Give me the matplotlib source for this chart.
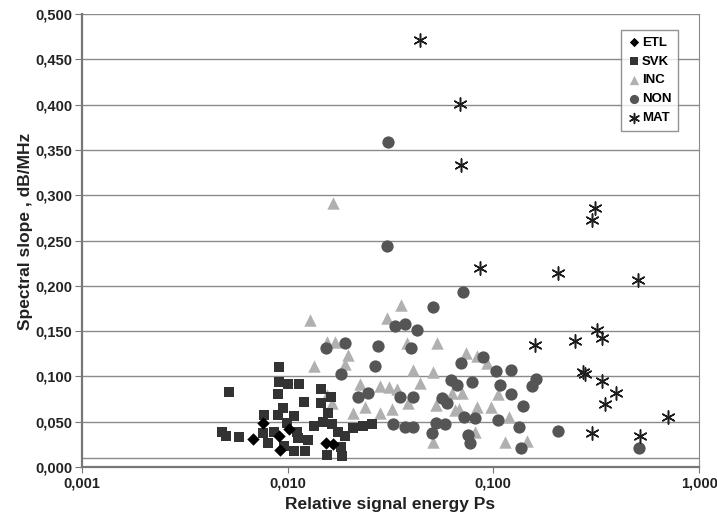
import matplotlib.pyplot as plt
from matplotlib.ticker import FixedLocator, FuncFormatter, NullLocator

# groups, values
etl_x = [0.0076, 0.0102, 0.0068, 0.0091, 0.0092, 0.0153, 0.0167]
etl_y = [0.049, 0.042, 0.031, 0.034, 0.019, 0.027, 0.025]

svk_x = [0.0091, 0.0091, 0.0101, 0.0114, 0.0052, 0.0090, 0.0145, 0.0120, 0.0146, 0.0163,
         0.0158, 0.0095, 0.0077, 0.0090, 0.0108, 0.0099, 0.0134, 0.0149, 0.0165, 0.0175,
         0.0191, 0.0209, 0.0234, 0.0256, 0.0048, 0.0050, 0.0058, 0.0076, 0.0080, 0.0086,
         0.0096, 0.0107, 0.0111, 0.0112, 0.0122, 0.0126, 0.0156, 0.0181, 0.0185]
svk_y = [0.110, 0.094, 0.092, 0.092, 0.083, 0.081, 0.086, 0.072, 0.071, 0.077,
         0.060, 0.065, 0.057, 0.057, 0.056, 0.049, 0.045, 0.050, 0.047, 0.039,
         0.034, 0.043, 0.045, 0.047, 0.039, 0.034, 0.033, 0.038, 0.026, 0.039,
         0.023, 0.018, 0.039, 0.032, 0.018, 0.030, 0.013, 0.022, 0.012]

inc_x = [0.0167, 0.0129, 0.0303, 0.0358, 0.0156, 0.0171, 0.0196, 0.0135, 0.0190, 0.0382,
         0.0530, 0.0409, 0.0512, 0.0740, 0.0836, 0.0935, 0.0442, 0.0224, 0.0280, 0.0313,
         0.0342, 0.0155, 0.0165, 0.0633, 0.0707, 0.1057, 0.0386, 0.0524, 0.0207, 0.0239,
         0.0323, 0.0283, 0.0654, 0.0836, 0.0978, 0.1196, 0.0818, 0.0512, 0.1144, 0.1460,
         0.0685]
inc_y = [0.291, 0.162, 0.164, 0.179, 0.138, 0.138, 0.124, 0.111, 0.114, 0.137,
         0.137, 0.107, 0.105, 0.126, 0.123, 0.115, 0.093, 0.092, 0.089, 0.088,
         0.086, 0.079, 0.071, 0.082, 0.082, 0.081, 0.071, 0.068, 0.060, 0.066,
         0.064, 0.060, 0.063, 0.066, 0.066, 0.055, 0.039, 0.028, 0.028, 0.029,
         0.064]

non_x = [0.0308, 0.0303, 0.0714, 0.0512, 0.0334, 0.0373, 0.0428, 0.0153, 0.0191, 0.0274,
         0.0396, 0.0265, 0.0181, 0.0700, 0.0895, 0.1034, 0.1223, 0.0625, 0.0669, 0.0791,
         0.1080, 0.1618, 0.1546, 0.0221, 0.0247, 0.0354, 0.0409, 0.0565, 0.0598, 0.1223,
         0.1400, 0.0723, 0.0818, 0.1057, 0.0327, 0.0373, 0.0409, 0.0524, 0.0585, 0.1337,
         0.0506, 0.2068, 0.0757, 0.0774, 0.1367, 0.5120]
non_y = [0.359, 0.244, 0.193, 0.177, 0.156, 0.158, 0.151, 0.131, 0.137, 0.134,
         0.131, 0.111, 0.103, 0.115, 0.121, 0.106, 0.107, 0.096, 0.091, 0.094,
         0.091, 0.097, 0.089, 0.077, 0.082, 0.077, 0.077, 0.076, 0.071, 0.081,
         0.067, 0.055, 0.054, 0.052, 0.047, 0.044, 0.044, 0.049, 0.047, 0.044,
         0.038, 0.040, 0.035, 0.026, 0.021, 0.021]

mat_x = [0.044, 0.069, 0.0693, 0.0866, 0.207, 0.506, 0.313, 0.303, 0.320, 0.338,
         0.250, 0.160, 0.274, 0.280, 0.338, 0.396, 0.350, 0.707, 0.303, 0.517]
mat_y = [0.471, 0.401, 0.333, 0.220, 0.214, 0.206, 0.286, 0.273, 0.151, 0.142,
         0.139, 0.135, 0.105, 0.103, 0.095, 0.082, 0.070, 0.055, 0.038, 0.034]

plt.rcParams['font.family'] = ['Liberation Sans', 'DejaVu Sans']

fig = plt.figure(figsize=(7.17, 5.21), dpi=100)
ax = fig.add_axes([0.114, 0.1036, 0.861, 0.8694])

ax.set_xscale('log')
ax.set_xlim(0.001, 1.0)
ax.set_ylim(0.0, 0.5)

# horizontal grid lines + the low threshold line
for v in [0.05 * i for i in range(1, 11)]:
    ax.axhline(v, color='#8a8a8a', lw=1.0, zorder=1)
ax.axhline(0.01, color='#8a8a8a', lw=1.0, zorder=1)

ax.scatter(svk_x, svk_y, marker='s', s=48, color='#333333', label='SVK', zorder=3, linewidths=0)
ax.scatter(etl_x, etl_y, marker='D', s=40, color='#000000', label='ETL', zorder=4, linewidths=0)
ax.scatter(inc_x, inc_y, marker='^', s=80, color='#b0b0b0', label='INC', zorder=2, linewidths=0)
ax.scatter(non_x, non_y, marker='o', s=78, color='#555555', label='NON', zorder=3, linewidths=0)
ax.scatter(mat_x, mat_y, marker=(6, 2, 0), s=90, color='#1e1e1e', label='MAT', zorder=5,
           linewidths=1.1)

ax.xaxis.set_major_locator(FixedLocator([0.001, 0.01, 0.1, 1.0]))
ax.xaxis.set_minor_locator(NullLocator())
ax.yaxis.set_major_locator(FixedLocator([0.05 * i for i in range(11)]))
fmt = FuncFormatter(lambda v, p: f"{v:.3f}".replace('.', ','))
ax.xaxis.set_major_formatter(fmt)
ax.yaxis.set_major_formatter(fmt)

for lab in ax.get_xticklabels() + ax.get_yticklabels():
    lab.set_fontweight('bold')
    lab.set_fontsize(10.5)
    lab.set_color('#222222')
ax.tick_params(axis='y', length=5, color='#777777', pad=2)
ax.tick_params(axis='x', length=4, color='#777777', pad=3)

for side in ['left', 'bottom']:
    ax.spines[side].set_color('#777777')
    ax.spines[side].set_linewidth(1.6)
ax.spines['right'].set_color('#8a8a8a')
ax.spines['top'].set_visible(False)

ax.set_xlabel('Relative signal energy Ps', fontsize=12.5, fontweight='bold', color='#222222')
ax.set_ylabel('Spectral slope , dB/MHz', fontsize=12.5, fontweight='bold', color='#222222')
ax.xaxis.set_label_coords(0.5, -0.066)
ax.yaxis.set_label_coords(-0.079, 0.52)

handles, labels = ax.get_legend_handles_labels()
order = [labels.index(n) for n in ['ETL', 'SVK', 'INC', 'NON', 'MAT']]
leg = ax.legend([handles[i] for i in order], [labels[i] for i in order],
                loc='upper right', bbox_to_anchor=(0.966, 0.965), borderaxespad=0,
                frameon=True, fancybox=False, edgecolor='#777777',
                prop={'weight': 'bold', 'size': 9.5},
                handletextpad=0.1, borderpad=0.5, labelspacing=0.5, markerscale=0.75,
                handlelength=1.0)
leg.get_frame().set_linewidth(1.0)

fig.savefig('out.png', dpi=100)
